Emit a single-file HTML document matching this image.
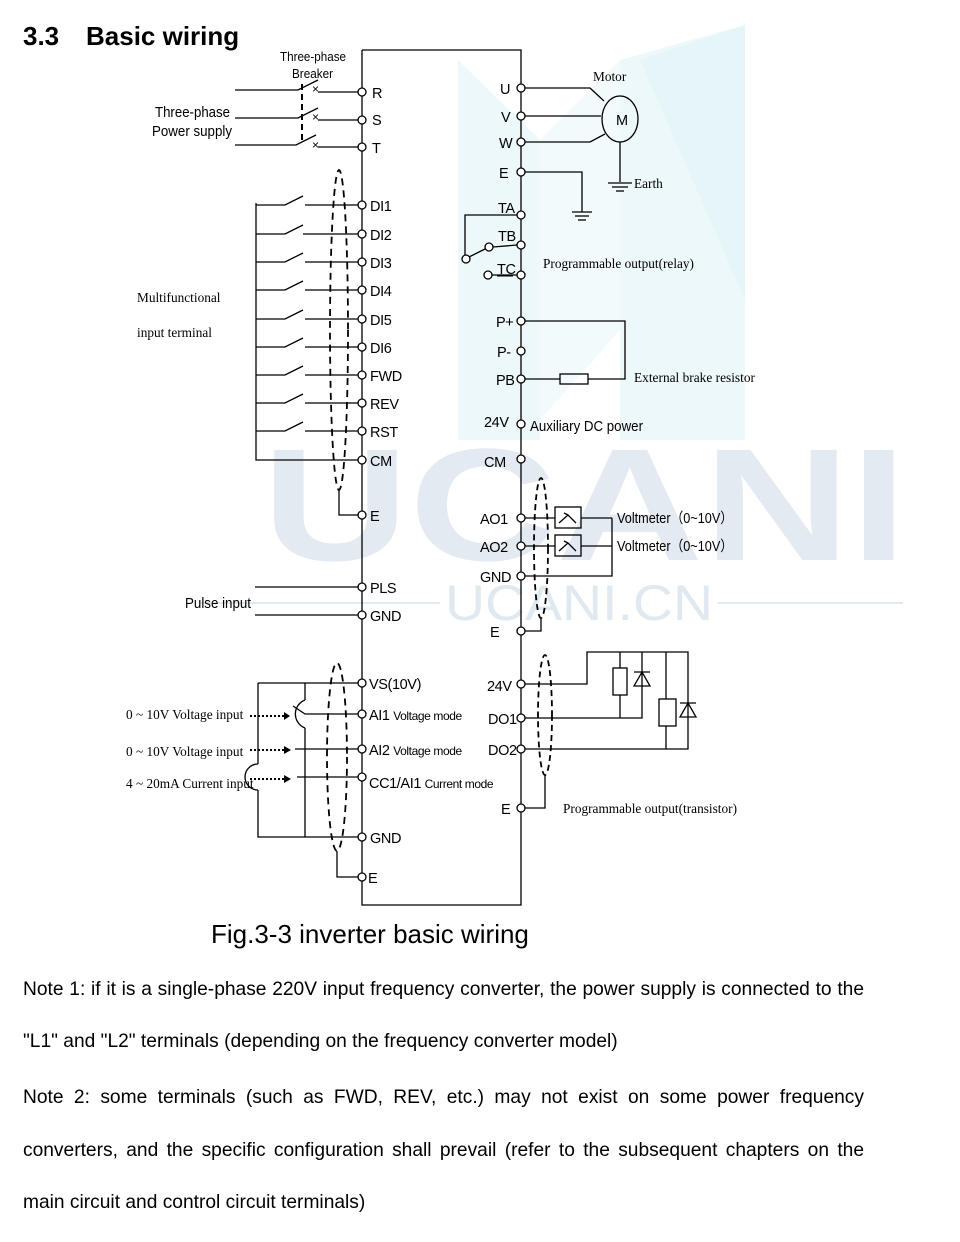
<!DOCTYPE html>
<html><head><meta charset="utf-8"><style>
html,body{margin:0;padding:0;background:#fff;}
body{width:960px;height:1242px;position:relative;overflow:hidden;font-family:"Liberation Sans",sans-serif;}
svg{position:absolute;left:0;top:0;}
.t{font-family:"Liberation Sans",sans-serif;font-size:14.5px;fill:#000;letter-spacing:-0.4px;}
.f{font-family:"Liberation Sans",sans-serif;font-size:14.5px;fill:#000;}
.s{font-family:"Liberation Serif",serif;font-size:13.3px;fill:#000;}
.note{position:absolute;left:23px;font-size:19.2px;color:#000;width:841px;}
</style></head><body>
<svg width="960" height="1242" viewBox="0 0 960 1242">
<g>
<polygon points="458,60 540,140 540,440 458,440" fill="#edf8fa"/>
<polygon points="540,140 620,60 620,330 540,420" fill="#f2fafc"/>
<polygon points="620,60 745,25 745,440 620,440" fill="#edf8fa"/>
<polygon points="640,60 745,25 745,300" fill="#e6f5f8"/>
<text x="262" y="560" font-family="Liberation Sans" font-weight="bold" font-size="160" fill="#e4eaf2" textLength="645" lengthAdjust="spacingAndGlyphs">UCANI</text>
<text x="445" y="620" font-family="Liberation Sans" font-size="50" fill="#e0e8f0" textLength="268" lengthAdjust="spacingAndGlyphs">UCANI.CN</text>
<line x1="200" y1="603" x2="440" y2="603" stroke="#e0e8f0" stroke-width="2"/>
<line x1="718" y1="603" x2="903" y2="603" stroke="#e0e8f0" stroke-width="2"/>
</g>
<text x="23" y="45" font-family="Liberation Sans" font-weight="bold" font-size="26">3.3</text>
<text x="86" y="45" font-family="Liberation Sans" font-weight="bold" font-size="26">Basic wiring</text>
<g stroke="#000" stroke-width="1.3" fill="none">
<polyline points="362,50 521,50 521,905 362,905 362,50"/>
<polyline points="235,90 298,90 318,80"/><line x1="318" y1="92" x2="358" y2="92"/>
<polyline points="235,118 298,118 318,108"/><line x1="318" y1="120" x2="358" y2="120"/>
<polyline points="235,145 296,145 316,135"/><line x1="318" y1="147" x2="358" y2="147"/>
<line x1="302" y1="84" x2="302" y2="142" stroke-dasharray="6,4" stroke-width="2"/>
<polyline points="256,203 256,460 358,460"/>
<polyline points="256,205 285,205 303,196"/><line x1="305" y1="205" x2="358" y2="205"/>
<polyline points="256,234 285,234 303,225"/><line x1="303" y1="234" x2="358" y2="234"/>
<polyline points="256,262 285,262 303,253"/><line x1="305" y1="262" x2="358" y2="262"/>
<polyline points="256,290 285,290 303,281"/><line x1="305" y1="290" x2="358" y2="290"/>
<polyline points="256,319 285,319 303,310"/><line x1="305" y1="319" x2="358" y2="319"/>
<polyline points="256,347 285,347 303,338"/><line x1="305" y1="347" x2="358" y2="347"/>
<polyline points="256,375 285,375 303,366"/><line x1="305" y1="375" x2="358" y2="375"/>
<polyline points="256,403 285,403 303,394"/><line x1="305" y1="403" x2="358" y2="403"/>
<polyline points="256,431 285,431 303,422"/><line x1="305" y1="431" x2="358" y2="431"/>
<ellipse cx="339" cy="330" rx="9" ry="160" stroke-dasharray="7,5" stroke-width="1.8"/>
<polyline points="339,490 339,515 358,515"/>
<line x1="255" y1="587" x2="358" y2="587"/><line x1="255" y1="615" x2="358" y2="615"/>
<polyline points="258,683 358,683"/>
<polyline points="258,683 258,764"/><polyline points="258,790 258,837 358,837"/>
<path d="M258,764 A13,13 0 0 0 258,790"/>
<polyline points="305,683 305,700"/><path d="M305,700 A15,15 0 0 0 305,728"/><polyline points="305,728 305,837"/>
<polyline points="293,706 305,714 358,714"/>
<line x1="295" y1="749" x2="358" y2="749"/>
<line x1="297" y1="777" x2="358" y2="777"/>
<ellipse cx="337" cy="757" rx="10" ry="94" stroke-dasharray="7,5" stroke-width="1.8"/>
<polyline points="337,851 337,877 358,877"/>
<g stroke-dasharray="2,2" stroke-width="2"><line x1="250" y1="716" x2="284" y2="716"/><line x1="250" y1="750" x2="284" y2="750"/><line x1="250" y1="779" x2="284" y2="779"/></g>
<polyline points="525,88 590,88 604,101"/>
<line x1="525" y1="116" x2="601" y2="116"/>
<polyline points="525,142 590,142 605,134"/>
<ellipse cx="620" cy="119" rx="18" ry="23"/>
<line x1="620" y1="142" x2="620" y2="182"/>
<line x1="608" y1="183" x2="632" y2="183"/><line x1="612" y1="187" x2="628" y2="187"/><line x1="616" y1="191" x2="624" y2="191"/>
<polyline points="525,172 582,172 582,212"/>
<line x1="572" y1="212" x2="592" y2="212"/><line x1="575" y1="216" x2="589" y2="216"/><line x1="578" y1="220" x2="586" y2="220"/>
<polyline points="517,215 465,215 465,255"/>
<line x1="469" y1="257" x2="485" y2="249"/>
<line x1="493" y1="247" x2="517" y2="245"/>
<line x1="492" y1="275" x2="517" y2="275"/>
<polyline points="525,321 625,321 625,379 588,379"/>
<line x1="525" y1="379" x2="560" y2="379"/>
<rect x="560" y="374" width="28" height="10"/>
<line x1="525" y1="518" x2="555" y2="518"/><line x1="525" y1="546" x2="555" y2="546"/>
<rect x="555" y="507" width="26" height="21"/><rect x="555" y="535" width="26" height="21"/>
<path d="M559,523 L568,515 L576,523 M568,515 L564,513"/><path d="M559,551 L568,543 L576,551 M568,543 L564,541"/>
<line x1="581" y1="518" x2="612" y2="518"/><line x1="581" y1="546" x2="612" y2="546"/>
<polyline points="525,576 612,576 612,518"/>
<ellipse cx="541" cy="548" rx="7" ry="70" stroke-dasharray="6,4" stroke-width="1.8"/>
<polyline points="541,618 541,631 525,631"/>
<polyline points="525,684 587,684 587,652 688,652 688,749 525,749"/>
<polyline points="525,718 642,718 642,652"/>
<line x1="620" y1="652" x2="620" y2="668"/><rect x="613" y="668" width="14" height="27"/><line x1="620" y1="695" x2="620" y2="718"/>
<line x1="666" y1="652" x2="666" y2="699"/><rect x="659" y="699" width="17" height="27"/><line x1="666" y1="726" x2="666" y2="749"/>
<path d="M634,672 L650,672 M634,686 L650,686 L642,672 Z"/>
<path d="M680,703 L696,703 M680,717 L696,717 L688,703 Z"/>
<ellipse cx="545" cy="715" rx="7" ry="60" stroke-dasharray="6,4" stroke-width="1.8"/>
<polyline points="545,775 545,808 525,808"/>
</g>
<polygon points="284,712 290,716 284,720" fill="#000"/><polygon points="284,746 291,750 284,754" fill="#000"/><polygon points="284,775 291,779 284,783" fill="#000"/>
<g fill="#fff" stroke="#000" stroke-width="1.3">
<circle cx="362" cy="92" r="4"/><circle cx="362" cy="120" r="4"/><circle cx="362" cy="147" r="4"/>
<circle cx="362" cy="205" r="4"/><circle cx="362" cy="234" r="4"/><circle cx="362" cy="262" r="4"/><circle cx="362" cy="290" r="4"/><circle cx="362" cy="319" r="4"/><circle cx="362" cy="347" r="4"/><circle cx="362" cy="375" r="4"/><circle cx="362" cy="403" r="4"/><circle cx="362" cy="431" r="4"/><circle cx="362" cy="460" r="4"/><circle cx="362" cy="515" r="4"/><circle cx="362" cy="587" r="4"/><circle cx="362" cy="615" r="4"/><circle cx="362" cy="683" r="4"/><circle cx="362" cy="714" r="4"/><circle cx="362" cy="749" r="4"/><circle cx="362" cy="777" r="4"/><circle cx="362" cy="837" r="4"/><circle cx="362" cy="877" r="4"/>
<circle cx="521" cy="88" r="4"/><circle cx="521" cy="116" r="4"/><circle cx="521" cy="142" r="4"/><circle cx="521" cy="172" r="4"/><circle cx="521" cy="215" r="4"/><circle cx="521" cy="245" r="4"/><circle cx="521" cy="275" r="4"/><circle cx="521" cy="321" r="4"/><circle cx="521" cy="351" r="4"/><circle cx="521" cy="379" r="4"/><circle cx="521" cy="424" r="4"/><circle cx="521" cy="459" r="4"/><circle cx="521" cy="518" r="4"/><circle cx="521" cy="546" r="4"/><circle cx="521" cy="576" r="4"/><circle cx="521" cy="631" r="4"/><circle cx="521" cy="684" r="4"/><circle cx="521" cy="718" r="4"/><circle cx="521" cy="749" r="4"/><circle cx="521" cy="808" r="4"/>
<circle cx="466" cy="259" r="4"/><circle cx="489" cy="247" r="4"/><circle cx="488" cy="275" r="4"/>
</g>
<g>
<text class="t" x="312" y="93" style="font-size:12px">×</text><text class="t" x="312" y="121" style="font-size:12px">×</text><text class="t" x="312" y="149" style="font-size:12px">×</text>
<text class="f" x="280" y="61" style="font-size:12.5px" textLength="66" lengthAdjust="spacingAndGlyphs">Three-phase</text><text class="f" x="292" y="78" style="font-size:12.5px" textLength="41" lengthAdjust="spacingAndGlyphs">Breaker</text>
<text class="f" x="155" y="117" textLength="75" lengthAdjust="spacingAndGlyphs">Three-phase</text><text class="f" x="152" y="136" textLength="80" lengthAdjust="spacingAndGlyphs">Power supply</text>
<text class="t" x="372" y="98">R</text><text class="t" x="372" y="125">S</text><text class="t" x="372" y="153">T</text>
<text class="t" x="370" y="211">DI1</text><text class="t" x="370" y="240">DI2</text><text class="t" x="370" y="268">DI3</text><text class="t" x="370" y="296">DI4</text><text class="t" x="370" y="325">DI5</text><text class="t" x="370" y="353">DI6</text><text class="t" x="370" y="381">FWD</text><text class="t" x="370" y="409">REV</text><text class="t" x="370" y="437">RST</text><text class="t" x="370" y="466">CM</text><text class="t" x="370" y="521">E</text>
<text class="t" x="370" y="593">PLS</text><text class="t" x="370" y="621">GND</text>
<text class="t" x="369" y="689">VS(10V)</text>
<text class="t" x="369" y="720">AI1 <tspan style="font-size:12px">Voltage mode</tspan></text>
<text class="t" x="369" y="755">AI2 <tspan style="font-size:12px">Voltage mode</tspan></text>
<text class="t" x="369" y="788">CC1/AI1 <tspan style="font-size:12px">Current mode</tspan></text>
<text class="t" x="370" y="843">GND</text><text class="t" x="368" y="883">E</text>
<text class="s" x="137" y="302">Multifunctional</text><text class="s" x="137" y="337">input terminal</text>
<text class="f" x="185" y="608" textLength="66" lengthAdjust="spacingAndGlyphs">Pulse input</text>
<text class="s" x="126" y="719">0 ~ 10V Voltage input</text>
<text class="s" x="126" y="756">0 ~ 10V Voltage input</text>
<text class="s" x="126" y="788">4 ~ 20mA Current input</text>
<text class="t" x="500" y="94">U</text><text class="t" x="501" y="122">V</text><text class="t" x="499" y="148">W</text><text class="t" x="499" y="178">E</text>
<text class="t" x="498" y="213">TA</text><text class="t" x="498" y="241">TB</text><text class="t" x="497" y="274">TC</text>
<line x1="497" y1="276" x2="513" y2="276" stroke="#000"/>
<text class="t" x="496" y="327">P+</text><text class="t" x="497" y="357">P-</text><text class="t" x="496" y="385">PB</text>
<text class="t" x="484" y="427">24V</text><text class="f" x="530" y="431" textLength="113" lengthAdjust="spacingAndGlyphs">Auxiliary DC power</text>
<text class="t" x="484" y="467">CM</text>
<text class="t" x="480" y="524">AO1</text><text class="t" x="480" y="552">AO2</text><text class="t" x="480" y="582">GND</text><text class="t" x="490" y="637">E</text>
<text class="t" x="487" y="691">24V</text><text class="t" x="488" y="724">DO1</text><text class="t" x="488" y="755">DO2</text><text class="t" x="501" y="814">E</text>
<text class="t" x="616" y="125">M</text>
<text class="s" x="593" y="81">Motor</text><text class="s" x="634" y="188">Earth</text>
<text class="s" x="543" y="268" textLength="151" lengthAdjust="spacingAndGlyphs">Programmable output(relay)</text>
<text class="s" x="634" y="382" textLength="121" lengthAdjust="spacingAndGlyphs">External brake resistor</text>
<text class="f" x="617" y="523" textLength="116" lengthAdjust="spacingAndGlyphs">Voltmeter（0~10V）</text><text class="f" x="617" y="551" textLength="116" lengthAdjust="spacingAndGlyphs">Voltmeter（0~10V）</text>
<text class="s" x="563" y="813" textLength="174" lengthAdjust="spacingAndGlyphs">Programmable output(transistor)</text>
</g>
<text x="211" y="943" font-family="Liberation Sans" font-size="26">Fig.3-3 inverter basic wiring</text>
</svg>
<div class="note" style="top:979px;text-align:justify;text-align-last:justify">Note 1: if it is a single-phase 220V input frequency converter, the power supply is connected to the</div>
<div class="note" style="top:1031px">"L1" and "L2" terminals (depending on the frequency converter model)</div>
<div class="note" style="top:1087px;text-align:justify;text-align-last:justify">Note 2: some terminals (such as FWD, REV, etc.) may not exist on some power frequency</div>
<div class="note" style="top:1140px;text-align:justify;text-align-last:justify">converters, and the specific configuration shall prevail (refer to the subsequent chapters on the</div>
<div class="note" style="top:1192px">main circuit and control circuit terminals)</div>
</body></html>
